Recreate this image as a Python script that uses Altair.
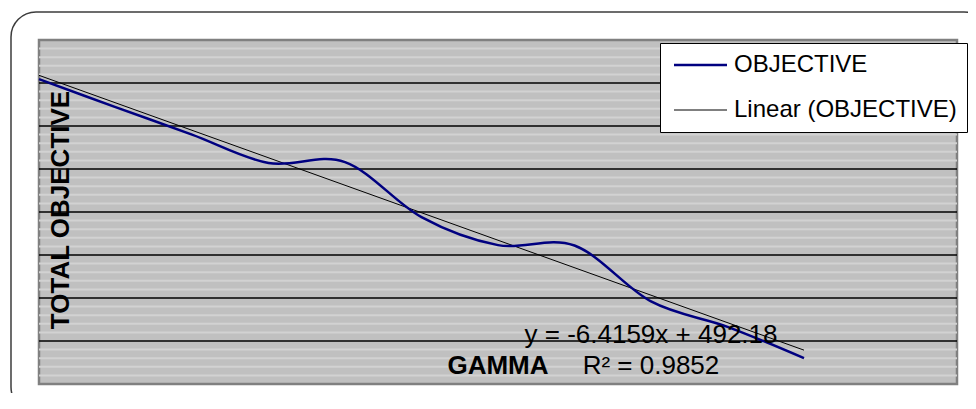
import altair as alt
import pandas as pd

# ---- data ----
gamma = [0, 1, 2, 3, 4, 5, 6, 7, 8, 9, 10]
objective = [490.9, 484.4, 478.0, 471.4, 471.6, 458.8, 452.3, 452.2, 439.2, 433.3, 426.0]
series_names = ["OBJECTIVE", "Linear (OBJECTIVE)"]
series_colors = ["#000080", "#000000"]
series_widths = [2.5, 1.0]
major_ticks = [430, 440, 450, 460, 470, 480, 490]
minor_ticks = [422, 424, 426, 428, 432, 434, 436, 438, 442, 444, 446, 448,
               452, 454, 456, 458, 462, 464, 466, 468, 472, 474, 476, 478,
               482, 484, 486, 488, 492, 494, 496, 498]
y_title = "TOTAL OBJECTIVE"
x_title = "GAMMA"
eq_text = "y = -6.4159x + 492.18"
r2_text = "R² = 0.9852"

df = pd.DataFrame({"gamma": gamma, "objective": objective, "series": series_names[0]})

W, H = 918, 344
FONT = "Liberation Sans"
x_scale = alt.Scale(domain=[0, 12], nice=False, zero=False)
y_scale = alt.Scale(domain=[420, 500], nice=False, zero=False)

leg = alt.Legend(
    title=None, orient="none", legendX=621, legendY=3,
    fillColor="white", strokeColor="#000000", padding=10,
    symbolType="M-0.8,0H4.5", symbolSize=400, labelFontSize=24, labelFont=FONT,
    labelColor="black", rowPadding=21, labelOffset=40, labelLimit=0, zindex=1,
)

color_enc = alt.Color("series:N", scale=alt.Scale(domain=series_names, range=series_colors), legend=leg)
sw_enc = alt.StrokeWidth("series:N", scale=alt.Scale(domain=series_names, range=series_widths), legend=leg)

minor = alt.Chart(pd.DataFrame({"v": minor_ticks})).mark_rule(
    color="#d2d2d2", strokeWidth=2
).encode(y=alt.Y("v:Q", scale=y_scale, axis=None))

major = alt.Chart(pd.DataFrame({"v": major_ticks})).mark_rule(
    color="#000000", strokeWidth=1.4
).encode(y=alt.Y("v:Q", scale=y_scale, axis=None))

trend = alt.Chart(df).transform_regression(
    "gamma", "objective", extent=[0, 10]
).transform_calculate(series="'Linear (OBJECTIVE)'").mark_line().encode(
    x=alt.X("gamma:Q", scale=x_scale, axis=None),
    y=alt.Y("objective:Q", scale=y_scale, axis=None),
    color=color_enc,
    strokeWidth=sw_enc,
)

obj = alt.Chart(df).mark_line(interpolate="cardinal").encode(
    x=alt.X("gamma:Q", scale=x_scale, axis=None),
    y=alt.Y("objective:Q", scale=y_scale, axis=None),
    color=color_enc,
    strokeWidth=sw_enc,
)


def txt(text, x, y, size, weight="normal", angle=0):
    return alt.Chart(alt.Data(values=[{"t": text}])).mark_text(
        font=FONT, fontSize=size, fontWeight=weight, angle=angle,
        align="center", baseline="alphabetic", color="black",
    ).encode(x=alt.value(x), y=alt.value(y), text="t:N")


ytitle = txt(y_title, 30, 170, 26, "bold", 270)
xtitle = txt(x_title, 459, 334, 26, "bold")
eq = txt(eq_text, 612, 303, 26)
r2 = txt(r2_text, 612, 334, 26)

border = alt.Chart(alt.Data(values=[{"a": 1}])).mark_rect(
    cornerRadius=25, fill="white", fillOpacity=0, stroke="#3c3c3c", strokeWidth=1.5
).encode(x=alt.value(-28), x2=alt.value(950), y=alt.value(-28), y2=alt.value(372))

chart = alt.layer(minor, major, trend, obj, ytitle, xtitle, eq, r2, border).properties(
    width=W, height=H,
    autosize=alt.AutoSizeParams(type="none"),
    padding={"left": 31, "top": 32, "right": 11, "bottom": 9},
    background="white",
).configure_view(
    fill="#c0c0c0", stroke="#808080", strokeWidth=2.5
)

chart.save("out.html", embed_options={"renderer": "svg", "actions": False})
